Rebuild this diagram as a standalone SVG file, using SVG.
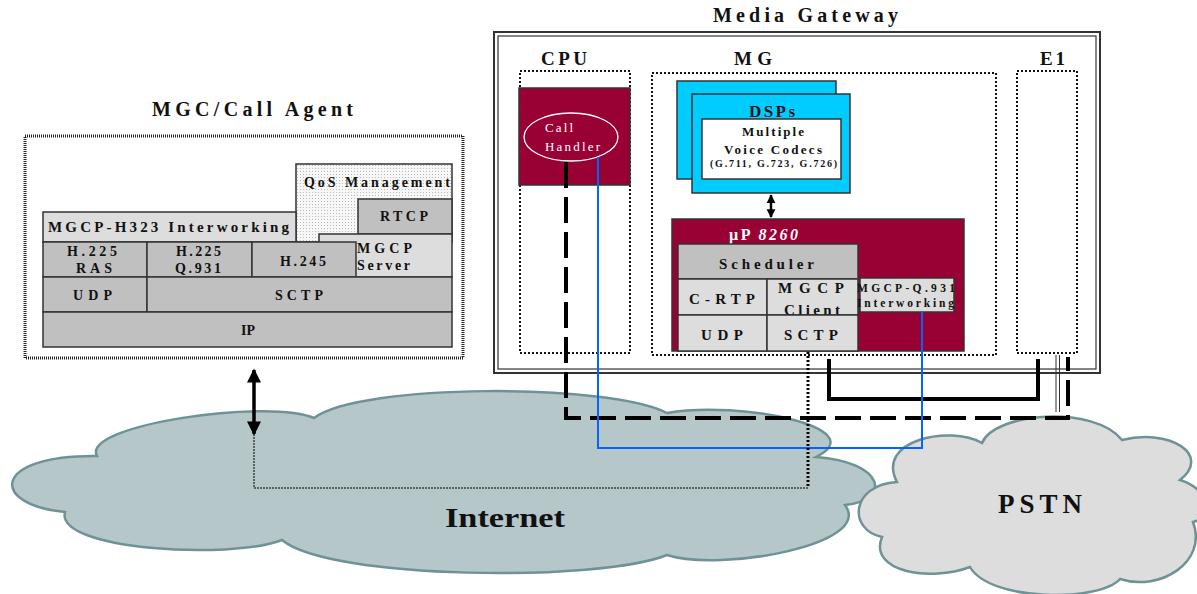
<svg xmlns="http://www.w3.org/2000/svg" width="1197" height="594" viewBox="0 0 1197 594">
<style>
.t{font-family:"Liberation Serif",serif;font-weight:bold;fill:#111;}
.w{font-family:"Liberation Serif",serif;fill:#fff;}
.box{stroke:#333;stroke-width:1.5;}
.lg{fill:#dddddd;}
.mg{fill:#c0c0c0;}
.mar{fill:#990033;stroke:#333;stroke-width:1.5;}
.dot{fill:none;stroke:#111;stroke-width:2;stroke-dasharray:2,2;}
.cloud{stroke:#6f9296;stroke-width:2.5;}
</style>
<defs>
<pattern id="qos" width="3" height="3" patternUnits="userSpaceOnUse">
<rect width="3" height="3" fill="#f7f7f7"/>
<rect width="1" height="1" fill="#bbb"/>
</pattern>
<marker id="ah" viewBox="0 0 10 10" refX="9" refY="5" markerWidth="4.5" markerHeight="4" orient="auto-start-reverse" markerUnits="strokeWidth">
<path d="M0,0 L10,5 L0,10 Z" fill="#000"/>
</marker>
<marker id="ah2" viewBox="0 0 10 10" refX="9" refY="5" markerWidth="3.5" markerHeight="4.5" orient="auto-start-reverse" markerUnits="strokeWidth">
<path d="M0,0 L10,5 L0,10 Z" fill="#000"/>
</marker>
</defs>
<rect width="1197" height="594" fill="#fff"/>

<g id="internet">
<path class="cloud" fill="#b5c7c9" d="M65,512 C-10,505 -10,455 97,456 C80,425 270,398 314,418 C360,383 610,383 667,413 C740,400 875,428 816,457 C885,462 892,500 845,505 C875,545 720,572 667,555 C600,582 330,580 282,540 C230,560 55,550 65,512 Z"/>
<text class="t" x="445" y="527" font-size="27" textLength="120" lengthAdjust="spacingAndGlyphs">Internet</text>
</g>

<g id="pstn">
<path class="cloud" fill="#dddddd" d="M897,482 C875,440 950,425 982,443 C995,412 1095,405 1122,440 C1170,428 1212,455 1180,480 C1212,490 1212,518 1193,522 C1208,562 1160,592 1120,579 C1100,602 990,602 970,567 C930,582 868,572 882,537 C848,530 850,485 897,482 Z"/>
<text class="t" x="998" y="513" font-size="27" textLength="84" lengthAdjust="spacing">PSTN</text>
</g>

<g id="mgc">
<text class="t" x="152" y="116" font-size="20" textLength="201" lengthAdjust="spacing">MGC/Call Agent</text>
<rect x="25" y="136" width="438" height="222" fill="none" stroke="#222" stroke-width="3" stroke-dasharray="1,1"/>
<g id="qos-mgmt">
<rect x="296" y="164" width="156" height="78" fill="url(#qos)" class="box"/>
<text class="t" x="304" y="187" font-size="14" textLength="146" lengthAdjust="spacing">QoS Management</text>
</g>
<g id="rtcp">
<rect x="358" y="199" width="94" height="35" class="box mg"/>
<text class="t" x="380" y="221" font-size="14" textLength="48" lengthAdjust="spacing">RTCP</text>
</g>
<g id="mgcp-server">
<rect x="319" y="234" width="133" height="43" class="box lg"/>
<text class="t" x="357" y="253" font-size="14" textLength="55" lengthAdjust="spacing">MGCP</text>
<text class="t" x="357" y="270" font-size="14" textLength="53" lengthAdjust="spacing">Server</text>
</g>
<g id="interworking">
<rect x="43" y="212" width="253" height="30" class="box lg"/>
<text class="t" x="48" y="232" font-size="15" textLength="241" lengthAdjust="spacing">MGCP-H323 Interworking</text>
</g>
<g id="h225ras">
<rect x="43" y="242" width="104" height="35" class="box mg"/>
<text class="t" x="67" y="256" font-size="14" textLength="50" lengthAdjust="spacing">H.225</text>
<text class="t" x="76" y="273" font-size="14" textLength="36" lengthAdjust="spacing">RAS</text>
</g>
<g id="h225q931">
<rect x="147" y="242" width="105" height="35" class="box mg"/>
<text class="t" x="176" y="256" font-size="14" textLength="45" lengthAdjust="spacing">H.225</text>
<text class="t" x="175" y="273" font-size="14" textLength="46" lengthAdjust="spacing">Q.931</text>
</g>
<g id="h245">
<rect x="252" y="242" width="104" height="35" class="box mg"/>
<text class="t" x="280" y="266" font-size="14" textLength="46" lengthAdjust="spacing">H.245</text>
</g>
<g id="mgc-udp">
<rect x="43" y="277" width="104" height="35" class="box mg"/>
<text class="t" x="73" y="300" font-size="14" textLength="39" lengthAdjust="spacing">UDP</text>
</g>
<g id="mgc-sctp">
<rect x="147" y="277" width="305" height="35" class="box mg"/>
<text class="t" x="275" y="300" font-size="14" textLength="48" lengthAdjust="spacing">SCTP</text>
</g>
<g id="mgc-ip">
<rect x="43" y="312" width="409" height="35" class="box mg"/>
<text class="t" x="241" y="335" font-size="14" textLength="14" lengthAdjust="spacing">IP</text>
</g>
</g>

<g id="media-gateway">
<text class="t" x="713" y="22" font-size="20" textLength="185" lengthAdjust="spacing">Media Gateway</text>
<rect x="494" y="32" width="606" height="341" fill="none" stroke="#333" stroke-width="2"/>
<rect x="498" y="36" width="598" height="333" fill="none" stroke="#333" stroke-width="1.2"/>
</g>

<g id="cpu">
<text class="t" x="541" y="65" font-size="19" textLength="46" lengthAdjust="spacing">CPU</text>
<rect x="520" y="71" width="110" height="282" class="dot"/>
<rect x="519" y="88" width="111" height="97" class="mar"/>
<g id="call-handler">
<ellipse cx="571" cy="137" rx="47" ry="24" fill="none" stroke="#fff" stroke-width="1.3"/>
<text class="w" x="545" y="132" font-size="13" textLength="28" lengthAdjust="spacing">Call</text>
<text class="w" x="545" y="151" font-size="13" textLength="55" lengthAdjust="spacing">Handler</text>
</g>
</g>

<g id="mg">
<text class="t" x="734" y="65" font-size="19" textLength="38" lengthAdjust="spacing">MG</text>
<rect x="652" y="73" width="344" height="282" class="dot"/>
</g>

<g id="e1">
<text class="t" x="1040" y="65" font-size="19" textLength="25" lengthAdjust="spacing">E1</text>
<rect x="1017" y="71" width="60" height="282" class="dot"/>
</g>

<g id="dsps">
<rect x="677" y="81" width="159" height="98" fill="#00ccff" stroke="#333" stroke-width="1.5"/>
<rect x="692" y="94" width="158" height="99" fill="#00ccff" stroke="#333" stroke-width="1.5"/>
<text class="t" x="749" y="117" font-size="17" textLength="46" lengthAdjust="spacing">DSPs</text>
<rect x="702" y="119" width="139" height="60" fill="#fff" stroke="#333" stroke-width="1.5"/>
<text class="t" x="742" y="136" font-size="13" textLength="62" lengthAdjust="spacing">Multiple</text>
<text class="t" x="724" y="154" font-size="13" textLength="98" lengthAdjust="spacing">Voice Codecs</text>
<text class="t" x="710" y="167" font-size="10" textLength="127" lengthAdjust="spacing">(G.711, G.723, G.726)</text>
</g>

<g id="up8260">
<rect x="672" y="219" width="292" height="132" class="mar"/>
<text class="w" x="729" y="240" font-size="16" font-weight="bold" textLength="69" lengthAdjust="spacing">µP <tspan font-style="italic">8260</tspan></text>
<g id="scheduler">
<rect x="678" y="244" width="180" height="35" class="box mg"/>
<text class="t" x="719" y="269" font-size="15" textLength="95" lengthAdjust="spacing">Scheduler</text>
</g>
<g id="crtp">
<rect x="678" y="279" width="89" height="36" class="box lg"/>
<text class="t" x="689" y="304" font-size="15" textLength="66" lengthAdjust="spacing">C-RTP</text>
</g>
<g id="mgcp-client">
<rect x="767" y="279" width="91" height="36" class="box lg"/>
<text class="t" x="778" y="293" font-size="15" textLength="66" lengthAdjust="spacing">MGCP</text>
<text class="t" x="784" y="315" font-size="15" textLength="56" lengthAdjust="spacing">Client</text>
</g>
<g id="mg-udp">
<rect x="678" y="315" width="89" height="36" class="box lg"/>
<text class="t" x="701" y="340" font-size="15" textLength="42" lengthAdjust="spacing">UDP</text>
</g>
<g id="mg-sctp">
<rect x="767" y="315" width="91" height="36" class="box lg"/>
<text class="t" x="784" y="340" font-size="15" textLength="54" lengthAdjust="spacing">SCTP</text>
</g>
<g id="mgcp-q931">
<rect x="860" y="278" width="94" height="34" class="box lg"/>
<text class="t" x="857" y="292" font-size="11.5" textLength="98" lengthAdjust="spacing">MGCP-Q.931</text>
<text class="t" x="857" y="307" font-size="11.5" textLength="97" lengthAdjust="spacing">Interworking</text>
</g>
</g>

<g id="connectors" fill="none">
<path d="M566,162 V418 H1068 V357" stroke="#000" stroke-width="4" stroke-dasharray="26,9"/>
<path d="M829,359 V399 H1038 V359" stroke="#000" stroke-width="4"/>
<line x1="1056" y1="355" x2="1056" y2="412" stroke="#333" stroke-width="1"/>
<line x1="1059.5" y1="355" x2="1059.5" y2="412" stroke="#333" stroke-width="1"/>
<path d="M598,157 V448 H922 V312" stroke="#0066ff" stroke-width="2"/>
<path d="M808,352 V488" stroke="#000" stroke-width="3" stroke-dasharray="2,2"/>
<path d="M808,488 H254 V432" stroke="#000" stroke-width="1" stroke-dasharray="2,1"/>
<line x1="254" y1="370" x2="254" y2="434" stroke="#000" stroke-width="3.5" marker-start="url(#ah)" marker-end="url(#ah)"/>
<line x1="771" y1="195" x2="771" y2="217" stroke="#000" stroke-width="2.5" marker-start="url(#ah2)" marker-end="url(#ah2)"/>
</g>
</svg>
